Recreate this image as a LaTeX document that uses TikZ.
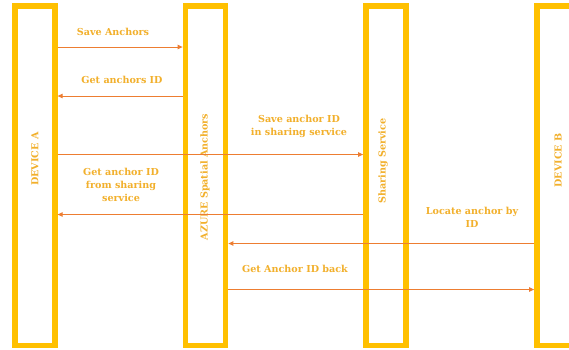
\documentclass[tikz,border=0pt]{standalone}
\usepackage{fontspec}
\setmainfont{DejaVu Serif}
\usetikzlibrary{arrows.meta}
\definecolor{boxcol}{HTML}{FFC000}
\definecolor{txtcol}{HTML}{F2B02C}
\definecolor{arrcol}{HTML}{ED7D31}
\tikzset{
  lifebox/.style={draw=boxcol, line width=5.8pt, minimum width=40pt, minimum height=339.5pt, inner sep=0pt},
  lbl/.style={text=txtcol, font=\bfseries\fontsize{9.6}{13}\selectfont, align=center, inner sep=0pt},
  vlbl/.style={lbl, rotate=90},
  msg/.style={draw=arrcol, line width=0.9pt, -{Triangle[length=5pt,width=4.5pt]}}
}
\begin{document}
\begin{tikzpicture}[x=1pt, y=-1pt]
\clip (0,0) rectangle (569,349);
\fill[white] (0,0) rectangle (569,349);
% lifeline boxes
\node[lifebox] (A) at (34.75,175.75) {};
\node[lifebox] (B) at (205.5,175.75) {};
\node[lifebox] (C) at (386,175.75) {};
\node[lifebox] (D) at (557,175.75) {};
% vertical titles
\node[vlbl] (tA) at (35,159) {DEVICE A};
\node[vlbl] (tB) at (205,177) {AZURE Spatial Anchors};
\node[vlbl] (tC) at (383,161) {Sharing Service};
\node[vlbl] (tD) at (558,160.5) {DEVICE B};
% message levels
\coordinate (y1) at (0,47);
\coordinate (y2) at (0,96);
\coordinate (y3) at (0,154.5);
\coordinate (y4) at (0,214.5);
\coordinate (y5) at (0,243.5);
\coordinate (y6) at (0,289.5);
% messages
\draw[msg] (A.east |- y1) -- (B.west |- y1);
\draw[msg] (B.west |- y2) -- (A.east |- y2);
\draw[msg] (A.east |- y3) -- (C.west |- y3);
\draw[msg] (C.west |- y4) -- (A.east |- y4);
\draw[msg] (D.west |- y5) -- (B.east |- y5);
\draw[msg] (B.east |- y6) -- (D.west |- y6);
% message labels
\node[lbl] (m1) at (113,32) {Save Anchors};
\node[lbl] (m2) at (122,80) {Get anchors ID};
\node[lbl] (m3) at (299,126.5) {Save anchor ID\\in sharing service};
\node[lbl] (m4) at (121,184.5) {Get anchor ID\\from sharing\\service};
\node[lbl] (m5) at (472,217.5) {Locate anchor by\\ID};
\node[lbl] (m6) at (295,268.5) {Get Anchor ID back};
\end{tikzpicture}
\end{document}
